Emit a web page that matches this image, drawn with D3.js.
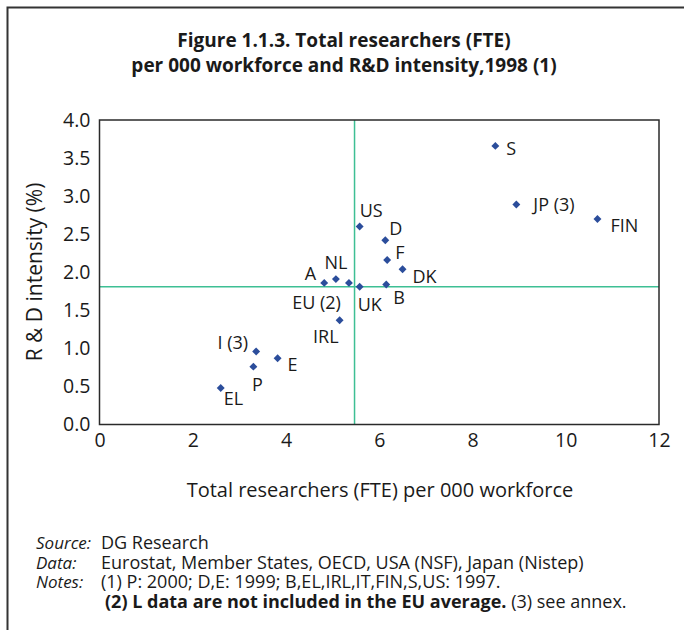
<!DOCTYPE html>
<html>
<head>
<meta charset="utf-8">
<script src="https://cdn.jsdelivr.net/npm/d3@7"></script>
<style>
  body { margin: 0; background: #fff; }
  svg text { font-family: "Open Sans", "Noto Sans", sans-serif; fill: #1a1a1a; }
</style>
</head>
<body>
<div id="chart"></div>
<script>
// data
const countries = ["S", "JP (3)", "FIN", "US", "D", "F", "DK", "A", "NL", "EU (2)", "UK", "B", "IRL", "I (3)", "E", "P", "EL"];
const researchers = [8.49, 8.94, 10.68, 5.58, 6.13, 6.17, 6.50, 4.82, 5.07, 5.35, 5.58, 6.15, 5.15, 3.36, 3.82, 3.30, 2.60];
const intensity = [3.66, 2.89, 2.70, 2.60, 2.42, 2.16, 2.04, 1.86, 1.91, 1.86, 1.81, 1.84, 1.37, 0.96, 0.87, 0.76, 0.48];
const xTicks = [0, 2, 4, 6, 8, 10, 12];
const yTicks = [0, 0.5, 1.0, 1.5, 2.0, 2.5, 3.0, 3.5, 4.0];
const euAvgResearchers = 5.47;
const euAvgIntensity = 1.81;

const titleLines = ["Figure 1.1.3. Total researchers (FTE)", "per 000 workforce and R&D intensity,1998 (1)"];
const xTitle = "Total researchers (FTE) per 000 workforce";
const yTitle = "R & D intensity (%)";

document.addEventListener("DOMContentLoaded", () => {
    drawChart();
});

let drawChart = () => {
    var width = 684
    var height = 630
    var left = 99.5, right = 659, top = 120, bottom = 424.5

    var svg = d3.select("#chart")
        .append("svg")
        .attr("width", width)
        .attr("height", height)

    // outer frame (top and left edges only are visible)
    svg.append("path")
        .attr("d", "M7.5," + height + " V7.5 H" + width)
        .attr("fill", "none")
        .attr("stroke", "#333")
        .attr("stroke-width", 2)

    // title
    svg.append("g")
        .selectAll("text")
        .data(titleLines)
        .enter()
        .append("text")
        .attr("x", 344)
        .attr("y", (d, i) => 47 + i * 25)
        .attr("text-anchor", "middle")
        .style("font-size", "19px")
        .style("font-weight", "bold")
        .text(d => d)

    var x = d3.scaleLinear().domain([0, 12]).range([left, right])
    var y = d3.scaleLinear().domain([0, 4]).range([bottom, top])

    // axes, labels only
    var xAxis = svg.append("g")
        .attr("transform", "translate(0," + bottom + ")")
        .call(d3.axisBottom(x).tickValues(xTicks).tickSize(0).tickPadding(9).tickFormat(d3.format("d")))
    xAxis.select(".domain").remove()
    xAxis.selectAll("text").style("font-size", "19.5px").style("font-family", null).attr("fill", "#1a1a1a")

    var yAxis = svg.append("g")
        .attr("transform", "translate(" + left + ",0)")
        .call(d3.axisLeft(y).tickValues(yTicks).tickSize(0).tickPadding(9).tickFormat(d3.format(".1f")))
    yAxis.select(".domain").remove()
    yAxis.selectAll("text").style("font-size", "19.5px").style("font-family", null).attr("fill", "#1a1a1a")

    // EU average reference lines
    svg.append("line")
        .attr("x1", x(euAvgResearchers)).attr("x2", x(euAvgResearchers))
        .attr("y1", top).attr("y2", bottom)
        .attr("stroke", "#3dbf94").attr("stroke-width", 1.5)
    svg.append("line")
        .attr("x1", left).attr("x2", right)
        .attr("y1", y(euAvgIntensity)).attr("y2", y(euAvgIntensity))
        .attr("stroke", "#3dbf94").attr("stroke-width", 1.5)

    // plot box
    svg.append("rect")
        .attr("x", left).attr("y", top)
        .attr("width", right - left).attr("height", bottom - top)
        .attr("fill", "none")
        .attr("stroke", "#2a2a2a")
        .attr("stroke-width", 1.5)

    // axis titles
    svg.append("text")
        .attr("x", 380).attr("y", 497)
        .attr("text-anchor", "middle")
        .style("font-size", "20px")
        .text(xTitle)
    svg.append("text")
        .attr("transform", "translate(42,272) rotate(-90)")
        .attr("text-anchor", "middle")
        .style("font-size", "21px")
        .text(yTitle)

    var points = countries.map((c, i) => ({ name: c, rx: researchers[i], ry: intensity[i] }))

    // diamond markers
    svg.append("g")
        .selectAll("path")
        .data(points)
        .enter()
        .append("path")
        .attr("d", d3.symbol().type(d3.symbolDiamond2).size(40))
        .attr("transform", d => "translate(" + x(d.rx) + "," + y(d.ry) + ")")
        .attr("fill", "#2b4d9b")

    // label placement: [dx, dy, anchor]
    var place = {
        "S": [11, 9, "start"], "JP (3)": [17, 7, "start"], "FIN": [13, 13, "start"],
        "US": [0, -10, "start"], "D": [4, -5, "start"], "F": [8, -1, "start"],
        "DK": [10, 14, "start"], "A": [-8, -3, "end"], "NL": [0, -10, "middle"],
        "EU (2)": [-8, 26, "end"], "UK": [-2, 24, "start"], "B": [7, 20, "start"],
        "IRL": [-1, 23, "end"], "I (3)": [-8, -2, "end"], "E": [10, 13, "start"],
        "P": [4, 24, "middle"], "EL": [3, 17, "start"]
    }

    svg.append("g")
        .selectAll("text")
        .data(points)
        .enter()
        .append("text")
        .attr("x", d => x(d.rx) + place[d.name][0])
        .attr("y", d => y(d.ry) + place[d.name][1])
        .attr("text-anchor", d => place[d.name][2])
        .style("font-size", "18px")
        .text(d => d.name)

    // footnotes
    var notes = svg.append("g").style("font-size", "18px")
    var rows = [
        ["Source:", 101, [["DG Research", "normal"]]],
        ["Data:", 101, [["Eurostat, Member States, OECD, USA (NSF), Japan (Nistep)", "normal"]]],
        ["Notes:", 101, [["(1) P: 2000; D,E: 1999; B,EL,IRL,IT,FIN,S,US: 1997.", "normal"]]],
        ["", 105, [["(2) L data are not included in the EU average.", "bold"], [" (3) see annex.", "normal"]]]
    ]
    rows.forEach((r, i) => {
        var yy = 549 + i * 19.5
        if (r[0]) {
            notes.append("text").attr("x", 36).attr("y", yy)
                .style("font-size", "17px")
                .style("font-style", "italic").text(r[0])
        }
        var t = notes.append("text").attr("x", r[1]).attr("y", yy)
        r[2].forEach(s => t.append("tspan").style("font-weight", s[1]).text(s[0]))
    })
}
</script>
</body>
</html>
